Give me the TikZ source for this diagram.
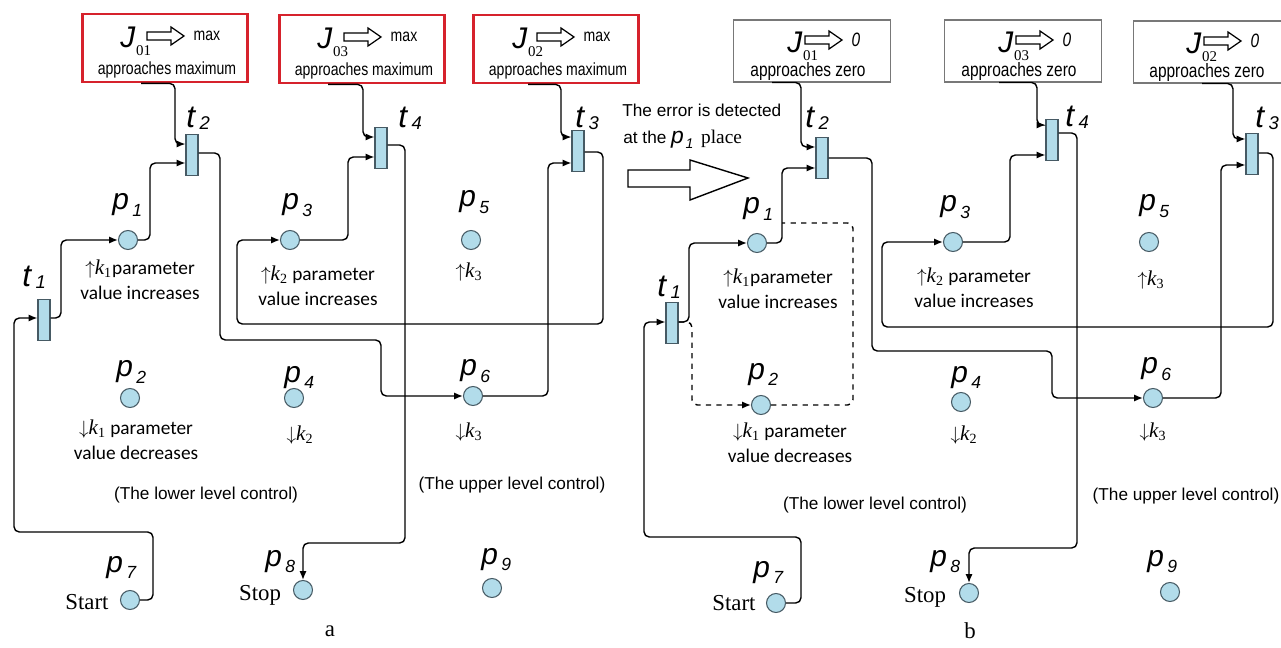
\documentclass[tikz,border=0pt]{standalone}
\usepackage{fontspec}
\setmainfont{Liberation Serif}
\newfontfamily\arial{Liberation Sans}
\newfontfamily\narrow[FakeStretch=0.8]{Liberation Sans}
\newfontfamily\calib{Carlito}
\usetikzlibrary{positioning,arrows.meta}

\definecolor{placefill}{RGB}{178,220,234}
\definecolor{placeedge}{RGB}{70,90,100}
\definecolor{boxred}{RGB}{214,34,44}
\definecolor{boxgray}{RGB}{120,120,120}

% names of places and transitions
\newcommand{\plab}[1]{{\arial\itshape\fontsize{17}{17}\selectfont p\kern2pt\raisebox{-3.5pt}{\fontsize{10}{10}\selectfont #1}}}
\newcommand{\tlab}[1]{{\arial\itshape\fontsize{18}{18}\selectfont t\kern2.5pt\raisebox{-1pt}{\fontsize{10.5}{10.5}\selectfont #1}}}
\newcommand{\Jl}[1]{{\arial\itshape\fontsize{17}{17}\selectfont J}\kern0.5pt\raisebox{-4pt}{\rmfamily\fontsize{8.5}{8.5}\selectfont #1}}
\newcommand{\kk}[1]{{\rmfamily\itshape\fontsize{12}{12}\selectfont k\textsubscript{\upshape #1}}}
% small hollow arrow inside the goal boxes
\newcommand{\harrow}[2]{\draw[hollow] (#1,#2) ++(0,-4) -- ++(24,0) -- ++(0,-5) -- ++(13,9) -- ++(-13,9) -- ++(0,-5) -- ++(-24,0) -- cycle;}

\begin{document}
\begin{tikzpicture}[x=0.02cm, y=-0.02cm, >={Latex[length=5pt,width=4pt]},
    place/.style={circle, draw=placeedge, fill=placefill, minimum size=0.38cm,
                  inner sep=0pt, line width=0.6pt},
    trans/.style={rectangle, draw=placeedge, fill=placefill, minimum width=0.24cm,
                  minimum height=0.82cm, inner sep=0pt, line width=0.6pt},
    redbox/.style={rectangle, draw=boxred, line width=1.6pt, minimum width=3.3cm,
                   minimum height=1.36cm, inner sep=0pt},
    graybox/.style={rectangle, draw=boxgray, line width=0.6pt, minimum width=3.14cm,
                    minimum height=1.24cm, inner sep=0pt},
    conn/.style={thick, rounded corners=3pt},
    lab/.style={inner sep=0pt, anchor=base west},
    ktext/.style={font=\calib\fontsize{11}{14.5}\selectfont, align=center, inner sep=0pt},
    note/.style={font=\arial\fontsize{9.8}{12}\selectfont, inner sep=0pt},
    jtext/.style={font=\narrow\fontsize{10}{12}\selectfont, inner sep=0pt},
    ztext/.style={font=\narrow\fontsize{11}{12}\selectfont, inner sep=0pt},
    serif/.style={font=\rmfamily\fontsize{13}{13}\selectfont, inner sep=0pt},
    hollow/.style={draw, fill=white, line width=0.7pt}]
  \useasboundingbox (0,0) rectangle (1281,648);

  % ---------- a ----------
  \node[redbox] (ja1) at (165,48) {};
  \node[redbox] (ja3) at (362,49) {};
  \node[redbox] (ja2) at (556,49) {};
  \node[lab] (jla1) at (120,48) {\Jl{01}};
  \node[lab] (jla3) at (317,49) {\Jl{03}};
  \node[lab] (jla2) at (512,49) {\Jl{02}};
  \harrow{147}{36}
  \harrow{344}{37}
  \harrow{537}{37}
  \node[jtext] (mxa1) at (207,36) {max};
  \node[jtext] (mxa3) at (404,37) {max};
  \node[jtext] (mxa2) at (597,37) {max};
  \node[jtext] (apa1) at (167,70) {approaches maximum};
  \node[jtext] (apa3) at (364,71) {approaches maximum};
  \node[jtext] (apa2) at (558,71) {approaches maximum};

  \node[trans] (ta1) at (44,320) {};
  \node[trans] (ta2) at (192,155) {};
  \node[trans] (ta4) at (381,148) {};
  \node[trans] (ta3) at (578,151) {};
  \node[lab] (lta1) at (22,287) {\tlab{1}};
  \node[lab] (lta2) at (186,128) {\tlab{2}};
  \node[lab] (lta4) at (398,128) {\tlab{4}};
  \node[lab] (lta3) at (575,128) {\tlab{3}};

  \node[place] (pa1) at (128,240) {};
  \node[place] (pa2) at (130,398) {};
  \node[place] (pa3) at (290,240) {};
  \node[place] (pa4) at (294,398) {};
  \node[place] (pa5) at (471,240) {};
  \node[place] (pa6) at (473,396) {};
  \node[place] (pa7) at (130,600) {};
  \node[place] (pa8) at (303,590) {};
  \node[place] (pa9) at (492,588) {};
  \node[lab] (lpa1) at (112,210) {\plab{1}};
  \node[lab] (lpa2) at (116,377) {\plab{2}};
  \node[lab] (lpa3) at (282,210) {\plab{3}};
  \node[lab] (lpa4) at (284,382) {\plab{4}};
  \node[lab] (lpa5) at (459,207) {\plab{5}};
  \node[lab] (lpa6) at (460,376) {\plab{6}};
  \node[lab] (lpa7) at (106,572) {\plab{7}};
  \node[lab] (lpa8) at (265,566) {\plab{8}};
  \node[lab] (lpa9) at (481,564) {\plab{9}};

  \node[ktext] (ka1) at (140,280) {$\uparrow$\kk{1}parameter\\value increases};
  \node[ktext] (ka2) at (136,440) {$\downarrow$\kk{1} parameter\\value decreases};
  \node[ktext] (ka3) at (318,286) {$\uparrow$\kk{2} parameter\\value increases};
  \node[ktext] (ka4) at (300,435) {$\downarrow$\kk{2}};
  \node[ktext] (ka5) at (469,272) {$\uparrow$\kk{3}};
  \node[ktext] (ka6) at (469,432) {$\downarrow$\kk{3}};
  \node[note] (lowa) at (206,495) {(The lower level control)};
  \node[note] (uppa) at (512,485) {(The upper level control)};
  \node[serif] (sta) at (87,602) {Start};
  \node[serif] (spa) at (260,595) {Stop};
  \node[serif] (capa) at (330,631) {a};

  \draw[conn,->] (pa7.east) -- (153,600) -- (153,532) -- (14,532) -- (14,318) -- (ta1.west |- 0,318);
  \draw[conn,->] (ta1.east |- 0,318) -- (61,318) -- (61,240) -- (pa1.west);
  \draw[conn,->] (pa1.east) -- (150,240) -- (150,163) -- (ta2.west |- 0,163);
  \draw[conn,->] (ja1.south -| 141,0) -- (ja1.south -| 175,0) -- (175,144) -- (ta2.west |- 0,144);
  \draw[conn,->] (ta2.east |- 0,153) -- (220,153) -- (220,340) -- (381,340) -- (381,396) -- (pa6.west);
  \draw[conn,->] (ja3.south -| 328,0) -- (ja3.south -| 363,0) -- (363,137) -- (ta4.west |- 0,137);
  \draw[conn,->] (pa3.east) -- (348,240) -- (348,157) -- (ta4.west |- 0,157);
  \draw[conn,->] (ta4.east |- 0,145) -- (405,145) -- (405,543) -- (303,543) -- (pa8.north);
  \draw[conn,->] (ja2.south -| 528,0) -- (ja2.south -| 561,0) -- (561,137) -- (ta3.west |- 0,137);
  \draw[conn,->] (pa6.east) -- (548,396) -- (548,163) -- (ta3.west |- 0,163);
  \draw[conn,->] (ta3.east |- 0,152) -- (603,152) -- (603,324) -- (237,324) -- (237,240) -- (pa3.west);

  % ---------- middle ----------
  \node[note, anchor=base west] (err1) at (622,117) {The error is detected};
  \node[note, anchor=base west] (err2) at (623,144) {at the
    {\itshape\fontsize{13}{13}\selectfont p\kern1pt\raisebox{-2.5pt}{\fontsize{8}{8}\selectfont 1}}\,
    {\rmfamily\fontsize{11}{11}\selectfont place}};
  \draw[hollow, line width=0.8pt] (628,170) -- (690,170) -- (690,160) -- (748,178)
    -- (690,200) -- (690,187) -- (628,187) -- cycle;

  % ---------- b ----------
  \node[graybox] (jb1) at (812,51) {};
  \node[graybox] (jb3) at (1023,51) {};
  \node[graybox] (jb2) at (1212,52) {};
  \node[lab] (jlb1) at (787,53) {\Jl{01}};
  \node[lab] (jlb3) at (998,53) {\Jl{03}};
  \node[lab] (jlb2) at (1186,54) {\Jl{02}};
  \harrow{805}{40}
  \harrow{1016}{40}
  \harrow{1204}{41}
  \node[ztext, font=\narrow\itshape\fontsize{11}{12}\selectfont] (zb1) at (856,40) {0};
  \node[ztext, font=\narrow\itshape\fontsize{11}{12}\selectfont] (zb3) at (1067,40) {0};
  \node[ztext, font=\narrow\itshape\fontsize{11}{12}\selectfont] (zb2) at (1255,41) {0};
  \node[ztext] (apb1) at (808,72) {approaches zero};
  \node[ztext] (apb3) at (1019,72) {approaches zero};
  \node[ztext] (apb2) at (1207,73) {approaches zero};

  \node[trans] (tb1) at (672,323) {};
  \node[trans] (tb2) at (822,158) {};
  \node[trans] (tb4) at (1052,140) {};
  \node[trans] (tb3) at (1252,154) {};
  \node[lab] (ltb1) at (657,297) {\tlab{1}};
  \node[lab] (ltb2) at (805,128) {\tlab{2}};
  \node[lab] (ltb4) at (1065,127) {\tlab{4}};
  \node[lab] (ltb3) at (1255,128) {\tlab{3}};

  \node[place] (pb1) at (757,243) {};
  \node[place] (pb2) at (761,405) {};
  \node[place] (pb3) at (953,242) {};
  \node[place] (pb4) at (961,402) {};
  \node[place] (pb5) at (1149,242) {};
  \node[place] (pb6) at (1153,398) {};
  \node[place] (pb7) at (776,603) {};
  \node[place] (pb8) at (969,593) {};
  \node[place] (pb9) at (1170,592) {};
  \node[lab] (lpb1) at (743,214) {\plab{1}};
  \node[lab] (lpb2) at (748,379) {\plab{2}};
  \node[lab] (lpb3) at (940,212) {\plab{3}};
  \node[lab] (lpb4) at (951,382) {\plab{4}};
  \node[lab] (lpb5) at (1139,211) {\plab{5}};
  \node[lab] (lpb6) at (1141,374) {\plab{6}};
  \node[lab] (lpb7) at (753,577) {\plab{7}};
  \node[lab] (lpb8) at (930,566) {\plab{8}};
  \node[lab] (lpb9) at (1147,566) {\plab{9}};

  \node[ktext] (kb1) at (778,289) {$\uparrow$\kk{1}parameter\\value increases};
  \node[ktext] (kb2) at (790,443) {$\downarrow$\kk{1} parameter\\value decreases};
  \node[ktext] (kb3) at (974,288) {$\uparrow$\kk{2} parameter\\value increases};
  \node[ktext] (kb4) at (964,435) {$\downarrow$\kk{2}};
  \node[ktext] (kb5) at (1151,280) {$\uparrow$\kk{3}};
  \node[ktext] (kb6) at (1153,432) {$\downarrow$\kk{3}};
  \node[note] (lowb) at (875,505) {(The lower level control)};
  \node[note] (uppb) at (1186,496) {(The upper level control)};
  \node[serif] (stb) at (734,603) {Start};
  \node[serif] (spb) at (925,597) {Stop};
  \node[serif] (capb) at (970,631) {b};

  \draw[conn,->] (pb7.east) -- (801,603) -- (801,537) -- (644,537) -- (644,322) -- (tb1.west |- 0,322);
  \draw[conn,->] (tb1.east |- 0,322) -- (689,322) -- (689,243) -- (pb1.west);
  \draw[conn,->] (pb1.east) -- (782,243) -- (782,168) -- (tb2.west |- 0,168);
  \draw[conn,dashed,->] (tb1.east |- 0,322) -- (692,322) -- (692,405) -- (pb2.west);
  \draw[conn,dashed] (pb2.east) -- (853,405) -- (853,223) -- (782,223);
  \draw[conn,->] (jb1.south -| 772,0) -- (jb1.south -| 801,0) -- (801,147) -- (tb2.west |- 0,147);
  \draw[conn,->] (tb2.east |- 0,158) -- (872,158) -- (872,351) -- (1052,351) -- (1052,398) -- (pb6.west);
  \draw[conn,->] (jb3.south -| 999,0) -- (jb3.south -| 1037,0) -- (1037,125) -- (tb4.west |- 0,125);
  \draw[conn,->] (pb3.east) -- (1010,242) -- (1010,155) -- (tb4.west |- 0,155);
  \draw[conn,->] (tb4.east |- 0,133) -- (1077,133) -- (1077,548) -- (969,548) -- (pb8.north);
  \draw[conn,->] (jb2.south -| 1202,0) -- (jb2.south -| 1233,0) -- (1233,139) -- (tb3.west |- 0,139);
  \draw[conn,->] (pb6.east) -- (1221,398) -- (1221,165) -- (tb3.west |- 0,165);
  \draw[conn,->] (tb3.east |- 0,153) -- (1273,153) -- (1273,327) -- (882,327) -- (882,242) -- (pb3.west);
\end{tikzpicture}
\end{document}
